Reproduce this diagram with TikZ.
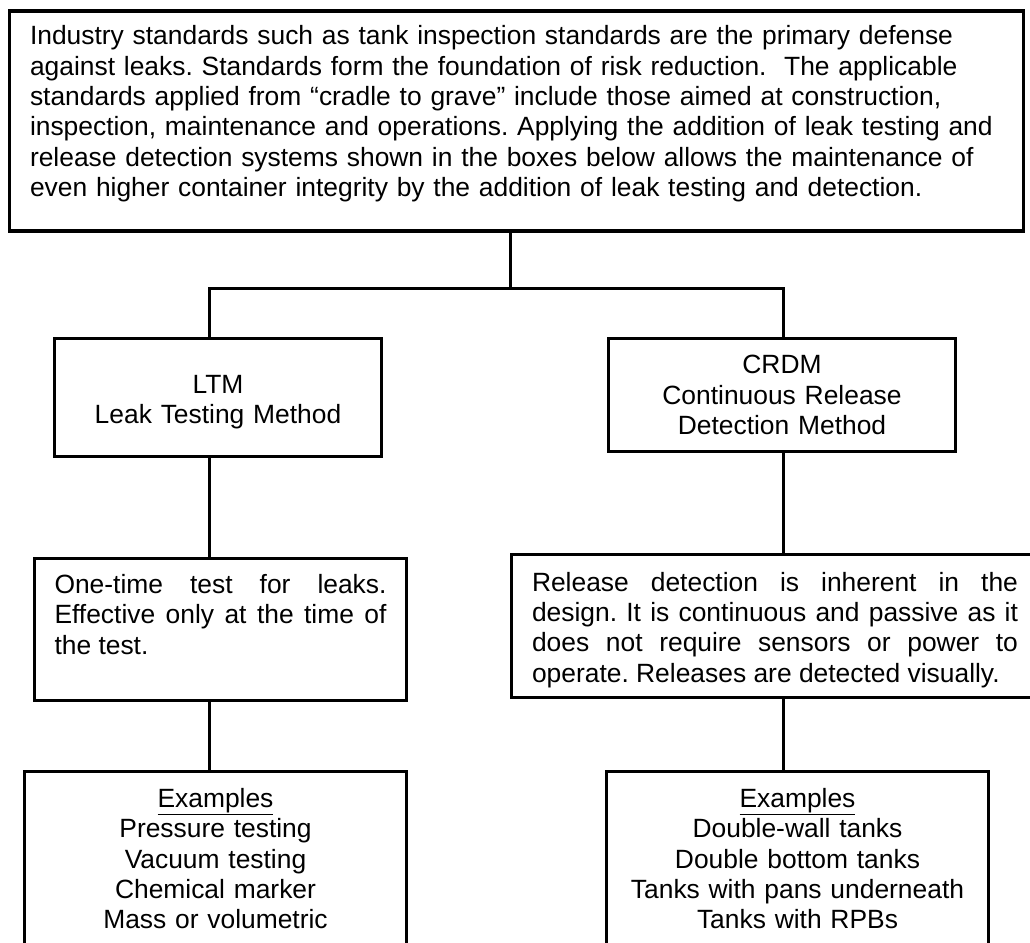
\documentclass[tikz,border=0pt]{standalone}
\usepackage{fontspec}
\setmainfont{Liberation Sans}
\begin{document}
\begin{tikzpicture}[x=1pt,y=-1pt,line join=miter,
  box/.style={draw,line width=3.6pt,outer sep=0pt,inner sep=0pt,
    font=\fontsize{26.4}{30.3}\selectfont\frenchspacing},
  link/.style={line width=3pt}]
  \useasboundingbox (0,0) rectangle (1030,942);
  \clip (0,0) rectangle (1030,942);
  \node[box,minimum width=1014,minimum height=219.5,text width=973,align=left]
    (top) at (516.5,121) {Industry standards such as tank inspection standards are the primary defense\\
    against leaks. Standards form the foundation of risk reduction.\ \ The applicable\\
    standards applied from “cradle to grave” include those aimed at construction,\\
    inspection, maintenance and operations. Applying the addition of leak testing and\\
    release detection systems shown in the boxes below allows the maintenance of\\
    even higher container integrity by the addition of leak testing and detection.\rule[-20pt]{0pt}{20pt}};
  \node[box,minimum width=327,minimum height=118,text width=300,align=center]
    (LTM) at (218,397.5) {\rule{0pt}{27pt}LTM\\Leak Testing Method};
  \node[box,minimum width=347,minimum height=113,text width=320,align=center]
    (CRDM) at (782,395) {CRDM\\Continuous Release\\Detection Method};
  \node[box,minimum width=372,minimum height=142,text width=332,align=justify]
    (once) at (220.5,629.5) {One-time test for leaks.\linebreak
    Effective only at the time of\linebreak the test.\par\mbox{}};
  \node[box,minimum width=527,minimum height=143,text width=486,align=justify]
    (release) at (775,626) {\rule{0pt}{27pt}Release detection is inherent in the\linebreak
    design. It is continuous and passive as it\linebreak
    does not require sensors or power to\linebreak
    operate. Releases are detected visually.};
  \node[box,anchor=north,minimum width=382,inner ysep=17pt,text width=360,align=center]
    (exLTM) at (215.5,771.5) {\underline{Examples}\\Pressure testing\\Vacuum testing\\Chemical marker\\Mass or volumetric};
  \node[box,anchor=north,minimum width=382,inner ysep=17pt,text width=360,align=center]
    (exCRDM) at (797.5,771.5) {\underline{Examples}\\Double-wall tanks\\Double bottom tanks\\Tanks with pans underneath\\Tanks with RPBs};
  \coordinate (hub) at (510,288);
  \coordinate (jL) at (209,288);
  \coordinate (jR) at (783,288);
  \draw[link] (top.south -| hub) -- (hub);
  \draw[link] (jL |- LTM.north) -- (jL) -- (jR) -- (jR |- CRDM.north);
  \draw[link] (LTM.south -| jL) -- (once.north -| jL);
  \draw[link] (CRDM.south -| jR) -- (release.north -| jR);
  \draw[link] (once.south -| jL) -- (exLTM.north -| jL);
  \draw[link] (release.south -| jR) -- (exCRDM.north -| jR);
\end{tikzpicture}
\end{document}
